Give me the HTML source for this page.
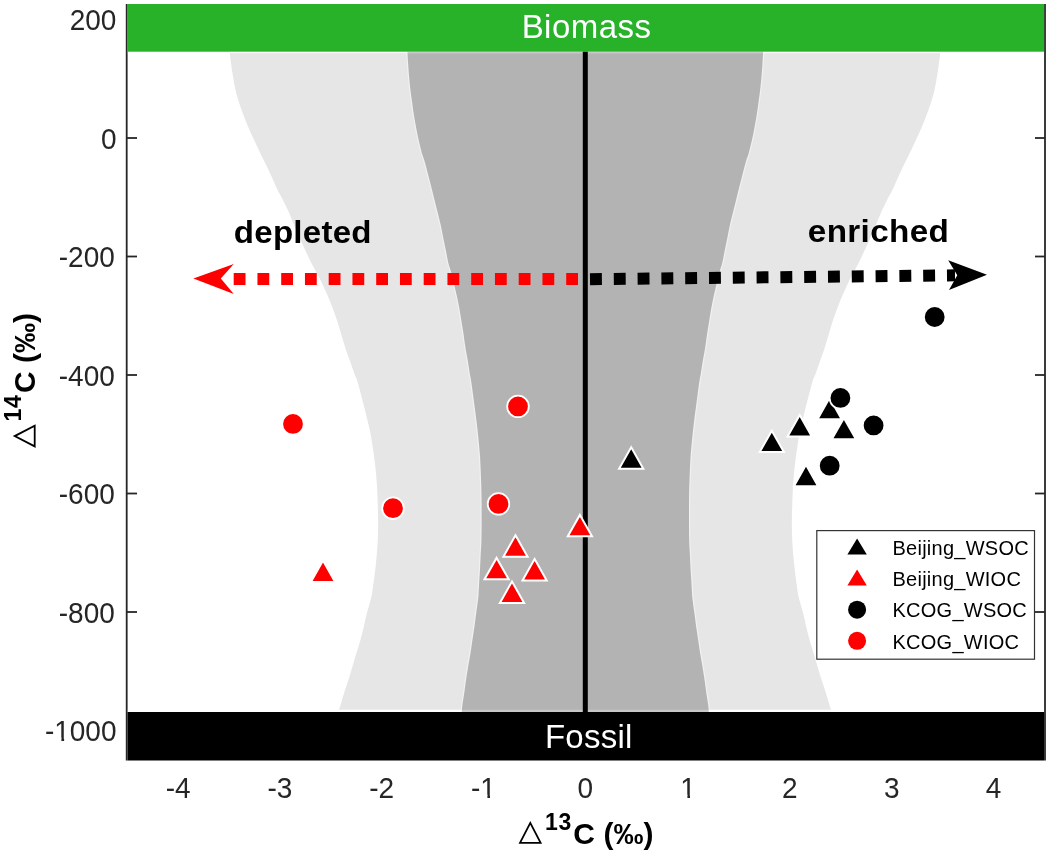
<!DOCTYPE html>
<html><head><meta charset="utf-8"><style>
html,body{margin:0;padding:0;background:#fff;}
svg{display:block;will-change:transform;font-family:"Liberation Sans",sans-serif;}
</style></head><body>
<svg width="1050" height="853" viewBox="0 0 1050 853">
<rect x="0" y="0" width="1050" height="853" fill="#fff"/>
<g stroke="#262626" stroke-width="1.8">
<line x1="126.7" y1="4" x2="126.7" y2="760.5"/>
<line x1="1045" y1="4" x2="1045" y2="760.5"/>
<line x1="126.7" y1="138.0" x2="137" y2="138.0"/>
<line x1="1035" y1="138.0" x2="1045" y2="138.0"/>
<line x1="126.7" y1="256.5" x2="137" y2="256.5"/>
<line x1="1035" y1="256.5" x2="1045" y2="256.5"/>
<line x1="126.7" y1="375.0" x2="137" y2="375.0"/>
<line x1="1035" y1="375.0" x2="1045" y2="375.0"/>
<line x1="126.7" y1="493.5" x2="137" y2="493.5"/>
<line x1="1035" y1="493.5" x2="1045" y2="493.5"/>
<line x1="126.7" y1="612.0" x2="137" y2="612.0"/>
<line x1="1035" y1="612.0" x2="1045" y2="612.0"/>
</g>
<path d="M229.70,53.00 C229.92,54.65 230.47,59.10 231.00,62.90 C231.53,66.70 232.20,71.50 232.90,75.80 C233.60,80.10 234.23,84.40 235.20,88.70 C236.17,93.00 237.37,97.30 238.70,101.60 C240.03,105.90 241.58,110.20 243.20,114.50 C244.82,118.80 246.57,123.10 248.40,127.40 C250.23,131.70 252.22,136.00 254.20,140.30 C256.18,144.60 258.30,149.08 260.30,153.20 C262.30,157.32 264.07,160.53 266.20,165.00 C268.33,169.47 271.20,175.83 273.10,180.00 C275.00,184.17 276.07,186.88 277.60,190.00 C279.13,193.12 280.48,195.10 282.30,198.70 C284.12,202.30 286.57,207.30 288.50,211.60 C290.43,215.90 292.07,220.20 293.90,224.50 C295.73,228.80 297.60,233.10 299.50,237.40 C301.40,241.70 303.30,246.00 305.30,250.30 C307.30,254.60 309.42,259.08 311.50,263.20 C313.58,267.32 316.07,271.72 317.80,275.00 C319.53,278.28 320.25,279.43 321.90,282.90 C323.55,286.37 325.87,291.50 327.70,295.80 C329.53,300.10 331.28,304.40 332.90,308.70 C334.52,313.00 336.00,317.30 337.40,321.60 C338.80,325.90 340.00,330.20 341.30,334.50 C342.60,338.80 343.80,343.10 345.20,347.40 C346.60,351.70 348.20,356.00 349.70,360.30 C351.20,364.60 352.98,369.92 354.20,373.20 C355.42,376.48 355.93,376.72 357.00,380.00 C358.07,383.28 359.45,388.60 360.60,392.90 C361.75,397.20 362.82,401.50 363.90,405.80 C364.98,410.10 366.07,414.40 367.10,418.70 C368.13,423.00 369.23,427.30 370.10,431.60 C370.97,435.90 371.62,440.20 372.30,444.50 C372.98,448.80 373.63,453.10 374.20,457.40 C374.77,461.70 375.27,466.00 375.70,470.30 C376.13,474.60 376.55,479.92 376.80,483.20 C377.05,486.48 377.05,486.72 377.20,490.00 C377.35,493.28 377.55,498.60 377.70,502.90 C377.85,507.20 378.03,511.50 378.10,515.80 C378.17,520.10 378.17,524.40 378.10,528.70 C378.03,533.00 377.92,537.30 377.70,541.60 C377.48,545.90 377.17,550.20 376.80,554.50 C376.43,558.80 375.98,563.10 375.50,567.40 C375.02,571.70 374.47,576.00 373.90,580.30 C373.33,584.60 372.65,589.92 372.10,593.20 C371.55,596.48 371.47,596.68 370.60,600.00 C369.73,603.32 368.02,608.72 366.90,613.10 C365.78,617.48 364.95,621.92 363.90,626.30 C362.85,630.68 361.82,635.03 360.60,639.40 C359.38,643.77 357.92,648.12 356.60,652.50 C355.28,656.88 354.00,661.32 352.70,665.70 C351.40,670.08 350.18,674.43 348.80,678.80 C347.42,683.17 345.78,687.53 344.40,691.90 C343.02,696.27 341.42,702.02 340.50,705.00 C339.58,707.98 339.17,709.00 338.90,709.80 L831.10,709.80 C830.83,709.00 830.42,707.98 829.50,705.00 C828.58,702.02 826.98,696.27 825.60,691.90 C824.22,687.53 822.58,683.17 821.20,678.80 C819.82,674.43 818.60,670.08 817.30,665.70 C816.00,661.32 814.72,656.88 813.40,652.50 C812.08,648.12 810.62,643.77 809.40,639.40 C808.18,635.03 807.15,630.68 806.10,626.30 C805.05,621.92 804.22,617.48 803.10,613.10 C801.98,608.72 800.27,603.32 799.40,600.00 C798.53,596.68 798.45,596.48 797.90,593.20 C797.35,589.92 796.67,584.60 796.10,580.30 C795.53,576.00 794.98,571.70 794.50,567.40 C794.02,563.10 793.57,558.80 793.20,554.50 C792.83,550.20 792.52,545.90 792.30,541.60 C792.08,537.30 791.97,533.00 791.90,528.70 C791.83,524.40 791.83,520.10 791.90,515.80 C791.97,511.50 792.15,507.20 792.30,502.90 C792.45,498.60 792.65,493.28 792.80,490.00 C792.95,486.72 792.95,486.48 793.20,483.20 C793.45,479.92 793.87,474.60 794.30,470.30 C794.73,466.00 795.23,461.70 795.80,457.40 C796.37,453.10 797.02,448.80 797.70,444.50 C798.38,440.20 799.03,435.90 799.90,431.60 C800.77,427.30 801.87,423.00 802.90,418.70 C803.93,414.40 805.02,410.10 806.10,405.80 C807.18,401.50 808.25,397.20 809.40,392.90 C810.55,388.60 811.93,383.28 813.00,380.00 C814.07,376.72 814.58,376.48 815.80,373.20 C817.02,369.92 818.80,364.60 820.30,360.30 C821.80,356.00 823.40,351.70 824.80,347.40 C826.20,343.10 827.40,338.80 828.70,334.50 C830.00,330.20 831.20,325.90 832.60,321.60 C834.00,317.30 835.48,313.00 837.10,308.70 C838.72,304.40 840.47,300.10 842.30,295.80 C844.13,291.50 846.45,286.37 848.10,282.90 C849.75,279.43 850.47,278.28 852.20,275.00 C853.93,271.72 856.42,267.32 858.50,263.20 C860.58,259.08 862.70,254.60 864.70,250.30 C866.70,246.00 868.60,241.70 870.50,237.40 C872.40,233.10 874.27,228.80 876.10,224.50 C877.93,220.20 879.57,215.90 881.50,211.60 C883.43,207.30 885.88,202.30 887.70,198.70 C889.52,195.10 890.87,193.12 892.40,190.00 C893.93,186.88 895.00,184.17 896.90,180.00 C898.80,175.83 901.67,169.47 903.80,165.00 C905.93,160.53 907.70,157.32 909.70,153.20 C911.70,149.08 913.82,144.60 915.80,140.30 C917.78,136.00 919.77,131.70 921.60,127.40 C923.43,123.10 925.18,118.80 926.80,114.50 C928.42,110.20 929.97,105.90 931.30,101.60 C932.63,97.30 933.83,93.00 934.80,88.70 C935.77,84.40 936.40,80.10 937.10,75.80 C937.80,71.50 938.47,66.70 939.00,62.90 C939.53,59.10 940.08,54.65 940.30,53.00 Z" fill="#e6e6e6"/>
<path d="M407.40,51.70 C407.52,53.57 407.83,58.88 408.10,62.90 C408.37,66.92 408.63,71.50 409.00,75.80 C409.37,80.10 409.80,84.40 410.30,88.70 C410.80,93.00 411.42,97.30 412.00,101.60 C412.58,105.90 413.12,110.20 413.80,114.50 C414.48,118.80 415.28,123.10 416.10,127.40 C416.92,131.70 417.73,136.00 418.70,140.30 C419.67,144.60 420.98,149.92 421.90,153.20 C422.82,156.48 423.23,156.72 424.20,160.00 C425.17,163.28 426.57,168.60 427.70,172.90 C428.83,177.20 429.92,181.50 431.00,185.80 C432.08,190.10 433.13,194.40 434.20,198.70 C435.27,203.00 436.33,207.30 437.40,211.60 C438.47,215.90 439.63,220.20 440.60,224.50 C441.57,228.80 442.33,233.10 443.20,237.40 C444.07,241.70 444.93,246.00 445.80,250.30 C446.67,254.60 447.62,259.92 448.40,263.20 C449.18,266.48 449.60,266.72 450.50,270.00 C451.40,273.28 452.75,278.60 453.80,282.90 C454.85,287.20 455.87,291.50 456.80,295.80 C457.73,300.10 458.62,304.40 459.40,308.70 C460.18,313.00 460.80,317.30 461.50,321.60 C462.20,325.90 462.95,330.20 463.60,334.50 C464.25,338.80 464.72,343.10 465.40,347.40 C466.08,351.70 466.98,356.00 467.70,360.30 C468.42,364.60 469.15,369.92 469.70,373.20 C470.25,376.48 470.48,376.72 471.00,380.00 C471.52,383.28 472.22,388.60 472.80,392.90 C473.38,397.20 473.93,401.50 474.50,405.80 C475.07,410.10 475.67,414.40 476.20,418.70 C476.73,423.00 477.23,427.30 477.70,431.60 C478.17,435.90 478.60,440.20 479.00,444.50 C479.40,448.80 479.82,453.10 480.10,457.40 C480.38,461.70 480.52,466.00 480.70,470.30 C480.88,474.60 481.08,479.92 481.20,483.20 C481.32,486.48 481.33,486.72 481.40,490.00 C481.47,493.28 481.57,498.60 481.60,502.90 C481.63,507.20 481.60,511.50 481.60,515.80 C481.60,520.10 481.63,524.40 481.60,528.70 C481.57,533.00 481.55,537.30 481.40,541.60 C481.25,545.90 480.92,550.20 480.70,554.50 C480.48,558.80 480.33,563.10 480.10,567.40 C479.87,571.70 479.55,576.00 479.30,580.30 C479.05,584.60 478.82,589.92 478.60,593.20 C478.38,596.48 478.40,596.68 478.00,600.00 C477.60,603.32 476.78,608.72 476.20,613.10 C475.62,617.48 475.12,621.92 474.50,626.30 C473.88,630.68 473.15,635.03 472.50,639.40 C471.85,643.77 471.30,648.12 470.60,652.50 C469.90,656.88 469.03,661.32 468.30,665.70 C467.57,670.08 466.85,674.43 466.20,678.80 C465.55,683.17 465.03,687.53 464.40,691.90 C463.77,696.27 462.83,701.65 462.40,705.00 C461.97,708.35 461.90,710.83 461.80,712.00 L708.80,712.00 C708.70,710.83 708.63,708.35 708.20,705.00 C707.77,701.65 706.83,696.27 706.20,691.90 C705.57,687.53 705.05,683.17 704.40,678.80 C703.75,674.43 703.03,670.08 702.30,665.70 C701.57,661.32 700.70,656.88 700.00,652.50 C699.30,648.12 698.75,643.77 698.10,639.40 C697.45,635.03 696.72,630.68 696.10,626.30 C695.48,621.92 694.98,617.48 694.40,613.10 C693.82,608.72 693.00,603.32 692.60,600.00 C692.20,596.68 692.22,596.48 692.00,593.20 C691.78,589.92 691.55,584.60 691.30,580.30 C691.05,576.00 690.73,571.70 690.50,567.40 C690.27,563.10 690.12,558.80 689.90,554.50 C689.68,550.20 689.35,545.90 689.20,541.60 C689.05,537.30 689.03,533.00 689.00,528.70 C688.97,524.40 689.00,520.10 689.00,515.80 C689.00,511.50 688.97,507.20 689.00,502.90 C689.03,498.60 689.13,493.28 689.20,490.00 C689.27,486.72 689.28,486.48 689.40,483.20 C689.52,479.92 689.72,474.60 689.90,470.30 C690.08,466.00 690.22,461.70 690.50,457.40 C690.78,453.10 691.20,448.80 691.60,444.50 C692.00,440.20 692.43,435.90 692.90,431.60 C693.37,427.30 693.87,423.00 694.40,418.70 C694.93,414.40 695.53,410.10 696.10,405.80 C696.67,401.50 697.22,397.20 697.80,392.90 C698.38,388.60 699.08,383.28 699.60,380.00 C700.12,376.72 700.35,376.48 700.90,373.20 C701.45,369.92 702.18,364.60 702.90,360.30 C703.62,356.00 704.52,351.70 705.20,347.40 C705.88,343.10 706.35,338.80 707.00,334.50 C707.65,330.20 708.40,325.90 709.10,321.60 C709.80,317.30 710.42,313.00 711.20,308.70 C711.98,304.40 712.87,300.10 713.80,295.80 C714.73,291.50 715.75,287.20 716.80,282.90 C717.85,278.60 719.20,273.28 720.10,270.00 C721.00,266.72 721.42,266.48 722.20,263.20 C722.98,259.92 723.93,254.60 724.80,250.30 C725.67,246.00 726.53,241.70 727.40,237.40 C728.27,233.10 729.03,228.80 730.00,224.50 C730.97,220.20 732.13,215.90 733.20,211.60 C734.27,207.30 735.33,203.00 736.40,198.70 C737.47,194.40 738.52,190.10 739.60,185.80 C740.68,181.50 741.77,177.20 742.90,172.90 C744.03,168.60 745.43,163.28 746.40,160.00 C747.37,156.72 747.78,156.48 748.70,153.20 C749.62,149.92 750.93,144.60 751.90,140.30 C752.87,136.00 753.68,131.70 754.50,127.40 C755.32,123.10 756.12,118.80 756.80,114.50 C757.48,110.20 758.02,105.90 758.60,101.60 C759.18,97.30 759.80,93.00 760.30,88.70 C760.80,84.40 761.23,80.10 761.60,75.80 C761.97,71.50 762.23,66.92 762.50,62.90 C762.77,58.88 763.08,53.57 763.20,51.70 Z" fill="#b3b3b3" stroke="#fff" stroke-width="2.4" stroke-opacity="0.45" paint-order="stroke"/>
<rect x="127.6" y="51.7" width="916.5" height="1.8" fill="#fff" fill-opacity="0.28"/>
<rect x="127.6" y="709.8" width="916.5" height="2.2" fill="#fff" fill-opacity="0.28"/>
<rect x="127.6" y="4" width="916.5" height="47.7" fill="#27b22a"/>
<rect x="127.6" y="712" width="916.5" height="48.5" fill="#000"/>
<line x1="585.3" y1="51.7" x2="585.3" y2="712" stroke="#000" stroke-width="5"/>
<line x1="578" y1="279" x2="228" y2="279" stroke="#f00" stroke-width="12" stroke-dasharray="11.8 11.95"/>
<polygon points="193.4,278.6 233.8,264.1 220.8,278.6 233.8,293.9" fill="#f00"/>
<line x1="590" y1="279.2" x2="955" y2="275.3" stroke="#000" stroke-width="12" stroke-dasharray="11.9 11.9"/>
<polygon points="987,274.7 948.2,260.2 957.3,275.3 949,290" fill="#000"/>
<polygon points="631.2,447.3 643.3,468.7 619.1,468.7" fill="#000" stroke="#fff" stroke-width="2"/>
<polygon points="771.8,430.7 783.9,452.1 759.7,452.1" fill="#000" stroke="#fff" stroke-width="2"/>
<polygon points="799.7,415.0 811.8,436.4 787.6,436.4" fill="#000" stroke="#fff" stroke-width="2"/>
<polygon points="829.6,397.8 841.7,419.2 817.5,419.2" fill="#000" stroke="#fff" stroke-width="2"/>
<polygon points="843.9,417.9 856.0,439.3 831.8,439.3" fill="#000" stroke="#fff" stroke-width="2"/>
<polygon points="806.0,464.8 818.1,486.2 793.9,486.2" fill="#000" stroke="#fff" stroke-width="2"/>
<polygon points="323.0,560.5 335.1,581.9 310.9,581.9" fill="#f00" stroke="#fff" stroke-width="2"/>
<polygon points="579.9,514.9 592.0,536.3 567.8,536.3" fill="#f00" stroke="#fff" stroke-width="2"/>
<polygon points="515.5,535.3 527.6,556.7 503.4,556.7" fill="#f00" stroke="#fff" stroke-width="2"/>
<polygon points="496.6,557.9 508.7,579.3 484.5,579.3" fill="#f00" stroke="#fff" stroke-width="2"/>
<polygon points="534.6,559.1 546.7,580.5 522.5,580.5" fill="#f00" stroke="#fff" stroke-width="2"/>
<polygon points="512.0,581.5 524.1,602.9 499.9,602.9" fill="#f00" stroke="#fff" stroke-width="2"/>
<circle cx="840.4" cy="397.9" r="10.8" fill="#000" stroke="#fff" stroke-width="1.8"/>
<circle cx="873.6" cy="425.4" r="10.8" fill="#000" stroke="#fff" stroke-width="1.8"/>
<circle cx="829.7" cy="465.7" r="10.8" fill="#000" stroke="#fff" stroke-width="1.8"/>
<circle cx="934.7" cy="317.0" r="10.8" fill="#000" stroke="#fff" stroke-width="1.8"/>
<circle cx="293.0" cy="423.9" r="10.8" fill="#f00" stroke="#fff" stroke-width="1.8"/>
<circle cx="393.0" cy="508.2" r="10.8" fill="#f00" stroke="#fff" stroke-width="1.8"/>
<circle cx="518.0" cy="406.4" r="10.8" fill="#f00" stroke="#fff" stroke-width="1.8"/>
<circle cx="498.5" cy="503.9" r="10.8" fill="#f00" stroke="#fff" stroke-width="1.8"/>
<rect x="816.8" y="530.6" width="217.7" height="128.6" fill="#fff" stroke="#333" stroke-width="1.2"/>
<polygon points="857.1,538.6 866.8,554.6 847.4,554.6" fill="#000"/>
<polygon points="857.1,569.5 866.8,585.5 847.4,585.5" fill="#f00"/>
<circle cx="857.1" cy="609.7" r="9" fill="#000"/>
<circle cx="857.1" cy="640.8" r="9" fill="#f00"/>
<g font-size="20" fill="#000" letter-spacing="0.25">
<text x="892.5" y="555.2">Beijing_WSOC</text>
<text x="892.5" y="586.3">Beijing_WIOC</text>
<text x="892.5" y="617.4">KCOG_WSOC</text>
<text x="892.5" y="648.5">KCOG_WIOC</text>
</g>
<g font-size="33" fill="#fff" text-anchor="middle">
<text x="586.5" y="38.3" letter-spacing="0.45">Biomass</text>
<text x="588.8" y="747.9" letter-spacing="0.25">Fossil</text>
</g>
<g font-size="32" font-weight="bold" fill="#000">
<text transform="translate(233.8,243.1) scale(1.035,1)" letter-spacing="0.22">depleted</text>
<text transform="translate(807.8,242.3) scale(1.04,1)" letter-spacing="0.33">enriched</text>
</g>
<g font-size="28" fill="#262626">
<text transform="translate(116.4,30.1) scale(1,1.07)" text-anchor="end">200</text>
<text transform="translate(116.5,148.6) scale(1,1.07)" text-anchor="end">0</text>
<text transform="translate(114.8,267.1) scale(1,1.07)" text-anchor="end">-200</text>
<text transform="translate(114.8,385.6) scale(1,1.07)" text-anchor="end">-400</text>
<text transform="translate(114.8,504.1) scale(1,1.07)" text-anchor="end">-600</text>
<text transform="translate(114.8,622.6) scale(1,1.07)" text-anchor="end">-800</text>
<text transform="translate(116.5,741.1) scale(1,1.07)" text-anchor="end">-1000</text>
<text transform="translate(178.1,797.6) scale(1,1.07)" text-anchor="middle">-4</text>
<text transform="translate(279.9,797.6) scale(1,1.07)" text-anchor="middle">-3</text>
<text transform="translate(381.7,797.6) scale(1,1.07)" text-anchor="middle">-2</text>
<text transform="translate(483.5,797.6) scale(1,1.07)" text-anchor="middle">-1</text>
<text transform="translate(585.3,797.6) scale(1,1.07)" text-anchor="middle">0</text>
<text transform="translate(688.1,797.6) scale(1,1.07)" text-anchor="middle">1</text>
<text transform="translate(789.9,797.6) scale(1,1.07)" text-anchor="middle">2</text>
<text transform="translate(891.7,797.6) scale(1,1.07)" text-anchor="middle">3</text>
<text transform="translate(993.5,797.6) scale(1,1.07)" text-anchor="middle">4</text>
</g>
<g fill="#fff">
<rect x="55.1" y="737.6" width="6.3" height="3.6"/><rect x="64.1" y="737.6" width="5.5" height="3.6"/>
<rect x="481" y="794.6" width="6.4" height="3.6"/><rect x="490" y="794.6" width="5.5" height="3.6"/>
<rect x="681" y="794.6" width="6.4" height="3.6"/><rect x="690" y="794.6" width="5.5" height="3.6"/>
</g>
<g transform="translate(519,843.5)" font-weight="bold" fill="#000">
<path d="M1,-0.6 L11.3,-20.6 L21.6,-0.6 Z" fill="none" stroke="#000" stroke-width="1.8"/>
<text x="26" y="-14" font-size="23" letter-spacing="0.6">13</text>
<text x="54.3" y="0" font-size="30">C</text>
<text x="84.5" y="0" font-size="30">(&#8240;)</text>
</g>
<g transform="translate(35.3,447.4) rotate(-90)" font-weight="bold" fill="#000">
<path d="M1,-0.6 L11.3,-20.6 L21.6,-0.6 Z" fill="none" stroke="#000" stroke-width="1.8"/>
<text x="26" y="-14" font-size="23" letter-spacing="0.6">14</text>
<text x="54.3" y="0" font-size="30">C</text>
<text x="84.5" y="0" font-size="30">(&#8240;)</text>
</g>
</svg>
</body></html>
